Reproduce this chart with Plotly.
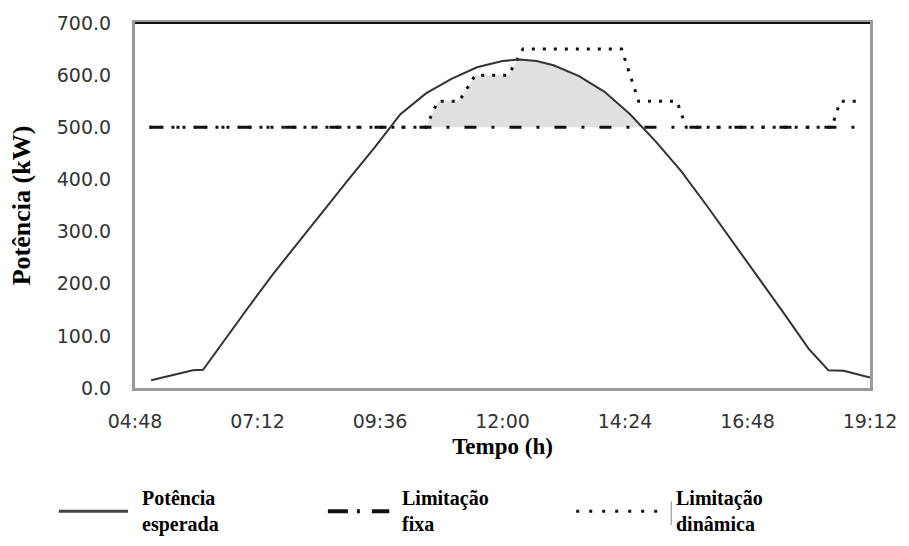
import numpy as np
import pandas as pd
import plotly.graph_objects as go

# ---------------- data ----------------
curve_time = ["05:07", "05:30", "05:56", "06:08", "06:30", "07:00", "07:30", "08:00",
              "08:30", "09:00", "09:30", "10:00", "10:30", "11:00", "11:30", "12:00",
              "12:20", "12:40", "13:00", "13:30", "14:00", "14:30", "15:00", "15:30",
              "16:00", "16:30", "17:00", "17:30", "18:00", "18:23", "18:41", "19:12"]
curve_kw = [15, 24, 34, 35, 85, 152, 218, 280,
            341, 402, 462, 525, 565, 593, 615, 627,
            630, 627, 619, 598, 568, 525, 473, 416,
            350, 282, 213, 145, 75, 34, 33, 20]

fixed_time = ["05:05", "19:02"]
fixed_kw = [500, 500]

dyn_time = ["05:05", "10:30", "10:44", "11:09", "11:28", "12:07", "12:24", "14:20",
            "14:40", "15:25", "15:36", "18:27", "18:37", "19:02"]
dyn_kw = [500, 500, 550, 550, 600, 600, 650, 650,
          550, 550, 500, 500, 550, 550]

x_tick_labels = ["04:48", "07:12", "09:36", "12:00", "14:24", "16:48", "19:12"]
y_tick_vals = [0, 100, 200, 300, 400, 500, 600, 700]

series_names = ["Potência esperada", "Limitação fixa", "Limitação dinâmica"]
legend_labels = ["Potência<br>esperada", "Limitação<br>fixa", "Limitação<br>dinâmica"]

# ---------------- helpers ----------------
BASE = "2020-01-01 "


def to_dt(ts):
    return pd.to_datetime([BASE + t for t in ts])


def to_h(ts):
    return np.array([int(t[:2]) + int(t[3:]) / 60.0 for t in ts])


# shaded gain area: between fixed limit and min(expected power, dynamic limit)
ch, dh = to_h(curve_time), to_h(dyn_time)
grid_h = np.linspace(ch[0], ch[-1], 1500)
c_i = np.interp(grid_h, ch, curve_kw)
d_i = np.interp(grid_h, dh, dyn_kw, left=0, right=0)
base_level = fixed_kw[0]
top = np.maximum(np.minimum(c_i, d_i), base_level)
grid_dt = pd.Timestamp("2020-01-01") + pd.to_timedelta(grid_h, unit="h")

fig = go.Figure()
fig.add_trace(go.Scatter(x=grid_dt, y=np.full_like(grid_h, base_level), mode="lines",
                         line=dict(width=0, color="rgba(0,0,0,0)"), showlegend=False,
                         hoverinfo="skip"))
fig.add_trace(go.Scatter(x=grid_dt, y=top, mode="lines", fill="tonexty",
                         fillcolor="#e0e0e0", line=dict(width=0, color="rgba(0,0,0,0)"),
                         showlegend=False, hoverinfo="skip"))
fig.add_trace(go.Scatter(x=to_dt(fixed_time), y=fixed_kw, mode="lines", name=series_names[1],
                         line=dict(color="#111111", width=3, dash="12px,15px,3px,15px")))
fig.add_trace(go.Scatter(x=to_dt(dyn_time), y=dyn_kw, mode="lines", name=series_names[2],
                         line=dict(color="#111111", width=3, dash="3px,8px")))
fig.add_trace(go.Scatter(x=to_dt(curve_time), y=curve_kw, mode="lines", name=series_names[0],
                         line=dict(color="#333333", width=2)))

# ---------------- layout ----------------
W, H = 909, 546
L, R, T, B = 135, 31, 21, 158
PW, PH = W - L - R, H - T - B


def px(xp):
    return (xp - L) / PW


def py(yp):
    return (H - B - yp) / PH


tick_font = dict(family="DejaVu Sans", size=19, color="#333333")
title_font_family = "Liberation Serif"

fig.update_layout(
    width=W, height=H,
    margin=dict(l=L, r=R, t=T, b=B),
    paper_bgcolor="white", plot_bgcolor="white",
    showlegend=False,
    xaxis=dict(
        type="date",
        range=[to_dt([x_tick_labels[0]])[0], to_dt([x_tick_labels[-1]])[0]],
        tickvals=to_dt(x_tick_labels), ticktext=x_tick_labels,
        showgrid=False, zeroline=False,
        showline=True, linecolor="#9a9a9a", linewidth=3, mirror=True,
        ticks="", tickfont=tick_font, ticklabelstandoff=14,
        title=dict(text="<b>Tempo (h)</b>", standoff=8,
                   font=dict(family=title_font_family, size=23, color="black")),
    ),
    yaxis=dict(
        range=[0, 700], tickvals=y_tick_vals, tickformat=".1f",
        showgrid=False, zeroline=False,
        showline=True, linecolor="#9a9a9a", linewidth=3, mirror=True,
        ticks="", tickfont=tick_font, ticklabelstandoff=17,
        title=dict(text="<b>Potência (kW)</b>", standoff=19,
                   font=dict(family=title_font_family, size=26, color="black")),
    ),
)

shapes = [
    # dark top border
    dict(type="line", xref="paper", yref="paper", x0=0, x1=1, y0=1, y1=1,
         line=dict(color="#111111", width=2)),
    # legend symbols
    dict(type="line", xref="paper", yref="paper", x0=px(58), x1=px(128), y0=py(512), y1=py(512),
         line=dict(color="#444444", width=3)),
    dict(type="line", xref="paper", yref="paper", x0=px(330), x1=px(392), y0=py(512), y1=py(512),
         line=dict(color="#111111", width=4, dash="20px,9px,3px,12px")),
    dict(type="line", xref="paper", yref="paper", x0=px(581), x1=px(670), y0=py(512), y1=py(512),
         line=dict(color="#111111", width=3, dash="3px,10px")),
    dict(type="line", xref="paper", yref="paper", x0=px(677), x1=px(677), y0=py(502), y1=py(526),
         line=dict(color="#888888", width=1)),
]
fig.update_layout(shapes=shapes)

legend_x = [140, 403, 680]
for lx, lab in zip(legend_x, legend_labels):
    fig.add_annotation(xref="paper", yref="paper", x=px(lx), y=py(512),
                       xanchor="left", yanchor="middle", align="left", showarrow=False,
                       text="<b>" + lab + "</b>",
                       font=dict(family="Liberation Serif", size=20, color="black"))

fig.write_html("out.html",
               config={"displayModeBar": False},
               post_script="document.body.style.margin='0';document.body.style.overflow='hidden';")
